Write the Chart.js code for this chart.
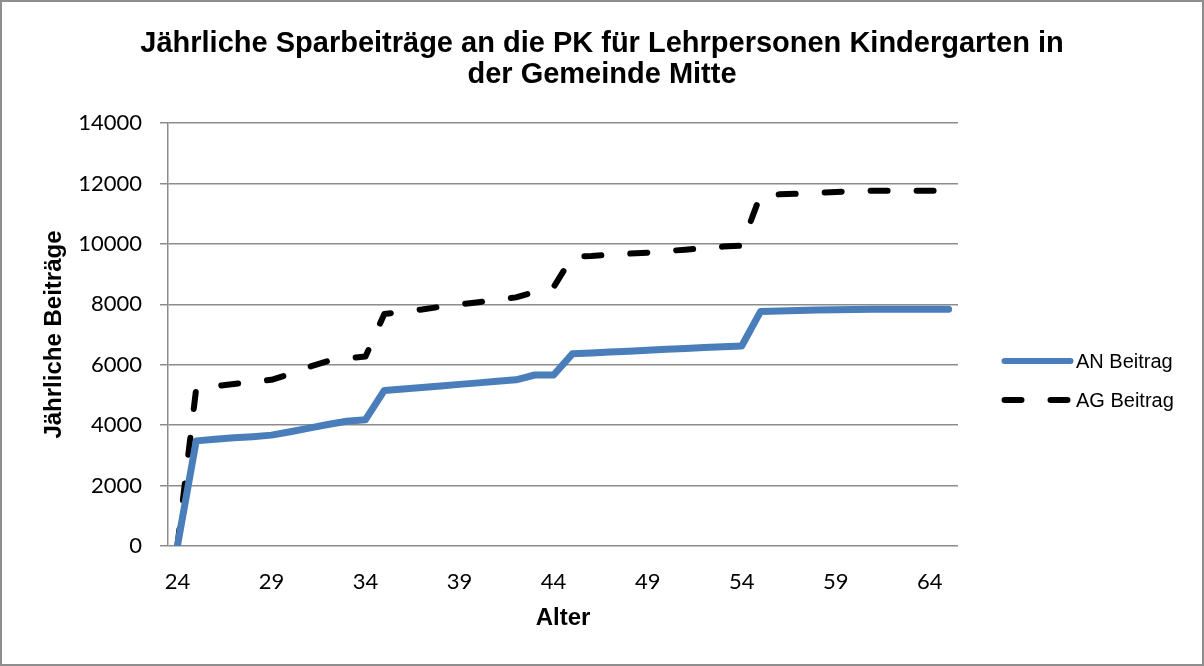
<!DOCTYPE html>
<html>
<head>
<meta charset="utf-8">
<script src="https://cdn.jsdelivr.net/npm/chart.js@4"></script>
<style>
    body { margin: 0; background: #fff; }
    #wrap { position: relative; width: 1204px; height: 666px; }
    #frame {
        position: absolute; left: 0; top: 0; width: 1204px; height: 666px;
        box-sizing: border-box; border: 2px solid #8e8e8e; pointer-events: none;
    }
</style>
</head>
<body>
<div id="wrap">
    <canvas id="pkChart" width="1204" height="666"></canvas>
    <div id="frame"></div>
</div>
<script>
// Alter (one category per year)
const ages = [24, 25, 26, 27, 28, 29, 30, 31, 32, 33, 34, 35, 36, 37, 38, 39, 40, 41, 42, 43, 44,
              45, 46, 47, 48, 49, 50, 51, 52, 53, 54, 55, 56, 57, 58, 59, 60, 61, 62, 63, 64, 65];

// only every 5th age gets a label
const tickAges = [24, 29, 34, 39, 44, 49, 54, 59, 64];

// Arbeitnehmer
const anBeitrag = [0, 3480, 3530, 3580, 3620, 3670, 3780, 3900, 4020, 4130, 4180,
                   5150, 5200, 5250, 5300, 5350, 5400, 5450, 5500, 5660, 5660,
                   6360, 6390, 6420, 6450, 6480, 6510, 6540, 6570, 6595, 6620,
                   7760, 7780, 7795, 7810, 7820, 7830, 7835, 7835, 7835, 7835, 7835];

// Arbeitgeber
const agBeitrag = [0, 5220, 5290, 5360, 5430, 5500, 5700, 5930, 6120, 6210, 6270,
                   7680, 7760, 7830, 7920, 8000, 8070, 8150, 8230, 8410, 8570,
                   9580, 9600, 9640, 9680, 9710, 9760, 9810, 9860, 9910, 9940,
                   11620, 11640, 11660, 11690, 11720, 11750, 11760, 11760, 11760, 11760, 11760];

const gridColor = "#8c8c8c";
const sansBold = { family: "'Liberation Sans', Arial, sans-serif", weight: "bold" };

// legend to the right of the plot, like the Excel original
const sideLegend = {
    id: "sideLegend",
    afterDraw(chart, args, opts) {
        const ctx = chart.ctx;
        ctx.save();
        ctx.font = "20px 'Liberation Sans', Arial, sans-serif";
        ctx.textBaseline = "middle";
        chart.data.datasets.forEach((ds, i) => {
            const y = opts.top + i * opts.spacing;
            ctx.strokeStyle = ds.borderColor;
            ctx.lineWidth = 6;
            ctx.lineCap = "round";
            ctx.setLineDash(ds.borderDash || []);
            ctx.beginPath();
            ctx.moveTo(opts.left, y);
            ctx.lineTo(opts.left + opts.lineLength, y);
            ctx.stroke();
            ctx.setLineDash([]);
            ctx.fillStyle = "#000";
            ctx.fillText(ds.label, opts.left + opts.lineLength + opts.gap, y + 1);
        });
        ctx.restore();
    }
};

const ctx = document.getElementById("pkChart").getContext("2d");

new Chart(ctx, {
    type: "line",
    data: {
        labels: ages,
        datasets: [
            {
                label: "AN Beitrag",
                data: anBeitrag,
                borderColor: "#4A7EBB",
                backgroundColor: "#4A7EBB",
                borderWidth: 7,
                borderJoinStyle: "round",
                borderCapStyle: "round",
                pointRadius: 0,
                tension: 0,
                clip: { left: 5, top: 5, right: 10, bottom: 0 }
            },
            {
                label: "AG Beitrag",
                data: agBeitrag,
                borderColor: "#000000",
                backgroundColor: "#000000",
                borderWidth: 6,
                borderDash: [17, 29],
                borderJoinStyle: "round",
                borderCapStyle: "round",
                pointRadius: 0,
                tension: 0,
                clip: { left: 5, top: 5, right: 10, bottom: 0 }
            }
        ]
    },
    options: {
        responsive: false,
        animation: false,
        layout: { padding: 0 },
        plugins: {
            legend: { display: false },
            tooltip: { enabled: false },
            title: {
                display: true,
                text: ["Jährliche Sparbeiträge an die PK für Lehrpersonen Kindergarten in", "der Gemeinde Mitte"],
                color: "#000",
                font: { ...sansBold, size: 29, lineHeight: 1.07 },
                padding: { top: 28, bottom: 33 }
            },
            sideLegend: { left: 1004.5, top: 361, spacing: 39, lineLength: 66, gap: 5.5 }
        },
        scales: {
            x: {
                type: "category",
                offset: true,
                grid: { display: false },
                border: { display: false },
                ticks: {
                    autoSkip: false,
                    maxRotation: 0,
                    padding: 15,
                    color: "#000",
                    font: { family: "Lato, 'Open Sans', sans-serif", size: 22 },
                    callback: function(value) {
                        const age = this.getLabelForValue(value);
                        return tickAges.includes(age) ? String(age) : "";
                    }
                },
                title: {
                    display: true,
                    text: "Alter",
                    color: "#000",
                    font: { ...sansBold, size: 24 },
                    padding: { top: 0, bottom: 33 }
                },
                afterFit: s => { s.height = 120; }
            },
            y: {
                min: 0,
                max: 14000,
                grid: { color: gridColor, lineWidth: 1.5, drawTicks: true, tickLength: 8 },
                border: { color: gridColor, width: 1.5 },
                ticks: {
                    stepSize: 2000,
                    padding: 18,
                    color: "#000",
                    font: { family: "Lato, 'Open Sans', sans-serif", size: 22 },
                    callback: v => String(v)
                },
                title: {
                    display: true,
                    text: "Jährliche Beiträge",
                    color: "#000",
                    font: { ...sansBold, size: 24 },
                    padding: { top: 40, bottom: 0 }
                },
                afterFit: s => { s.width = 168; }
            },
            // empty axis that keeps room for the legend on the right
            legendSpace: {
                type: "linear",
                position: "right",
                grid: { display: false },
                border: { display: false },
                ticks: { display: false },
                afterFit: s => { s.width = 1204 - 958; }
            }
        }
    },
    plugins: [sideLegend]
});
</script>
</body>
</html>
